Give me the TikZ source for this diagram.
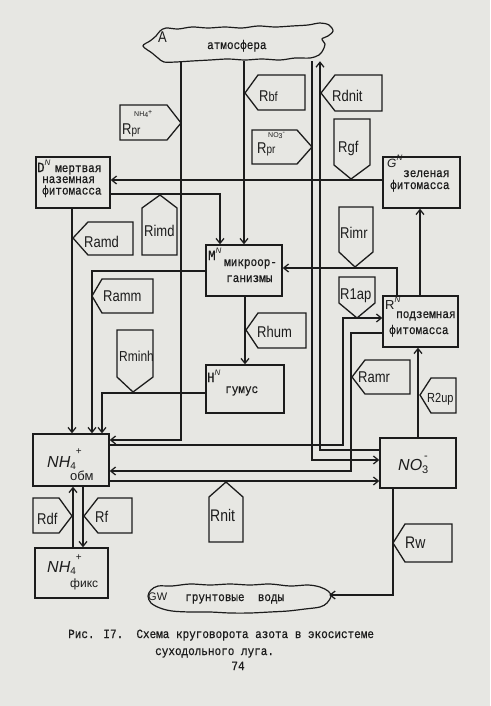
\documentclass[tikz,border=0pt]{standalone}
\usepackage{fontspec}
\usepackage{graphicx}
\setmainfont{Liberation Mono}[FakeStretch=0.88,FakeBold=0.6]
\newfontfamily\hand{Liberation Sans}
\usetikzlibrary{arrows.meta}
\definecolor{paper}{RGB}{231,231,227}
\definecolor{ink}{RGB}{28,28,28}
\newcommand{\Rl}[1]{{\hand\fontsize{13}{13}\selectfont\scalebox{1}[1.2]{#1}}}
\newcommand{\tw}{\fontsize{12.5}{12.5}\selectfont}
\newcommand{\supN}{\raisebox{7pt}{\hand\itshape\fontsize{8}{8}\selectfont N}}
\begin{document}
\begin{tikzpicture}[x=1pt,y=-1pt,color=ink,
  box/.style={draw,rectangle,inner sep=0pt,line width=1.3pt},
  arr/.style={line width=1.25pt,-{Straight Barb[length=5pt,width=8pt]}},
  ptr/.style={line width=1.3pt},
  lbl/.style={inner sep=0pt,anchor=base west,font=\tw},
  cloudline/.style={line width=1.2pt}]
\useasboundingbox (0,0) rectangle (490,706);
\fill[paper] (0,0) rectangle (490,706);

% ---------- boxes ----------
\node[box,minimum width=74pt,minimum height=51pt] (D) at (73,182.5) {};
\node[box,minimum width=77pt,minimum height=51pt] (G) at (421.5,182.5) {};
\node[box,minimum width=76pt,minimum height=51pt] (M) at (244,270.5) {};
\node[box,minimum width=75pt,minimum height=51pt] (R) at (420.5,321.5) {};
\node[box,minimum width=78pt,minimum height=48pt] (H) at (245,389) {};
\node[box,minimum width=76pt,minimum height=52pt] (NHobm) at (71,460) {};
\node[box,minimum width=76pt,minimum height=50pt] (NO) at (418,463) {};
\node[box,minimum width=73pt,minimum height=50pt] (NHfix) at (71.5,573) {};

% ---------- clouds ----------
\node[inner sep=0pt,minimum width=178pt,minimum height=35pt] (atm) at (239,43.5) {};
\draw[cloudline] plot[smooth cycle,tension=0.55] coordinates {
 (143,46) (150,41) (156,36) (160,31) (166,28) (178,29) (192,27) (208,28) (225,27)
 (242,28) (258,26) (275,27) (292,26) (308,25) (320,23) (329,25) (333,31) (328,36)
 (322,39) (325,44) (323,50) (319,55) (310,58) (295,58) (280,60) (262,59) (245,60)
 (228,59) (210,60) (192,61) (176,62) (164,62) (158,58) (152,53)};
\node[inner sep=0pt,minimum width=180pt,minimum height=28pt] (GW) at (239,598) {};
\draw[cloudline] plot[smooth cycle,tension=0.55] coordinates {
 (148,596) (151,590) (158,586) (172,586) (190,584) (210,585) (230,584) (250,585)
 (270,584) (290,586) (308,585) (320,587) (328,591) (331,596) (327,603) (320,607)
 (305,609) (288,611) (270,612) (250,613) (230,613) (210,612) (190,612) (172,611)
 (160,608) (151,603)};

% ---------- connectors ----------
\draw[arr] (atm.south -| 181,0) -- (181,440) -- (NHobm.east |- 0,440);
\draw[arr] (atm.south -| 244,0) -- (M.north -| 244,0);
\draw[arr] (atm.south -| 312,0) -- (312,460) -- (NO.west |- 0,460);
\draw[arr] (NO.west |- 0,450) -- (320,450) -- (atm.south -| 320,0);
\draw[arr] (G.west |- 0,180) -- (D.east |- 0,180);
\draw[arr] (D.east |- 0,194) -- (220,194) -- (M.north -| 220,0);
\draw[arr] (D.south -| 72,0) -- (NHobm.north -| 72,0);
\draw[arr] (M.west |- 0,271) -- (92,271) -- (NHobm.north -| 92,0);
\draw[arr] (M.south -| 245,0) -- (H.north -| 245,0);
\draw[arr] (H.west |- 0,393) -- (102,393) -- (NHobm.north -| 102,0);
\draw[arr] (R.north -| 397,0) -- (397,268) -- (M.east |- 0,268);
\draw[arr] (R.north -| 420,0) -- (G.south -| 420,0);
\draw[arr] (NHobm.east |- 0,445) -- (343,445) -- (343,318) -- (R.west |- 0,318);
\draw[arr] (R.west |- 0,333) -- (351,333) -- (351,471) -- (NHobm.east |- 0,471);
\draw[arr] (NHobm.east |- 0,481) -- (NO.west |- 0,481);
\draw[arr] (NO.north -| 418,0) -- (R.south -| 418,0);
\draw[arr] (NO.south -| 393,0) -- (393,595) -- (GW.east |- 0,595);
\draw[arr] (NHfix.north -| 73,0) -- (NHobm.south -| 73,0);
\draw[arr] (NHobm.south -| 83,0) -- (NHfix.north -| 83,0);

% ---------- rate pointers ----------
\draw[ptr] (245,93) -- (258,75) -- (305,75) -- (305,110) -- (258,110) -- cycle;
\draw[ptr] (321,93) -- (335,75) -- (382,75) -- (382,111) -- (335,111) -- cycle;
\draw[ptr] (73,238) -- (88,222) -- (133,222) -- (133,255) -- (88,255) -- cycle;
\draw[ptr] (92,296) -- (102,279) -- (153,279) -- (153,313) -- (102,313) -- cycle;
\draw[ptr] (246,330) -- (258,313) -- (306,313) -- (306,348) -- (258,348) -- cycle;
\draw[ptr] (352,377) -- (365,360) -- (410,360) -- (410,394) -- (365,394) -- cycle;
\draw[ptr] (420,395) -- (431,378) -- (456,378) -- (456,413) -- (431,413) -- cycle;
\draw[ptr] (393,543) -- (405,524) -- (452,524) -- (452,562) -- (405,562) -- cycle;
\draw[ptr] (84,516) -- (98,498) -- (132,498) -- (132,533) -- (98,533) -- cycle;
\draw[ptr] (181,123) -- (167,105) -- (120,105) -- (120,140) -- (167,140) -- cycle;
\draw[ptr] (312,147) -- (297,130) -- (252,130) -- (252,164) -- (297,164) -- cycle;
\draw[ptr] (72,516) -- (59,498) -- (33,498) -- (33,533) -- (59,533) -- cycle;
\draw[ptr] (351,179) -- (334,165) -- (334,119) -- (370,119) -- (370,165) -- cycle;
\draw[ptr] (355,267) -- (339,252) -- (339,207) -- (373,207) -- (373,252) -- cycle;
\draw[ptr] (357,318) -- (339,303) -- (339,277) -- (375,277) -- (375,303) -- cycle;
\draw[ptr] (133,392) -- (117,377) -- (117,330) -- (153,330) -- (153,377) -- cycle;
\draw[ptr] (160,195) -- (142,208) -- (142,255) -- (177,255) -- (177,208) -- cycle;
\draw[ptr] (226,482) -- (209,497) -- (209,542) -- (243,542) -- (243,497) -- cycle;

% ---------- pointer labels ----------
\node[lbl] (tRbf) at (259,102) {\Rl{R{\fontsize{11}{11}\selectfont bf}}};
\node[lbl] (tRdnit) at (332,102) {\Rl{Rdnit}};
\node[lbl] (tRprA) at (122,134) {\Rl{R{\fontsize{10}{10}\selectfont pr}}};
\node[lbl] (tRprAs) at (134,117) {{\hand\fontsize{7}{7}\selectfont NH\raisebox{-1pt}{4}\raisebox{2.5pt}{+}}};
\node[lbl] (tRprB) at (257,153) {\Rl{R{\fontsize{10}{10}\selectfont pr}}};
\node[lbl] (tRprBs) at (268,137) {{\hand\fontsize{7}{7}\selectfont NO\raisebox{-1pt}{3}\raisebox{2.5pt}{-}}};
\node[lbl] (tRgf) at (338,152) {\Rl{Rgf}};
\node[lbl] (tRamd) at (84,247) {\Rl{Ramd}};
\node[lbl] (tRimd) at (144,236) {\Rl{Rimd}};
\node[lbl] (tRamm) at (103,301) {\Rl{Ramm}};
\node[lbl] (tRminh) at (119,361) {\Rl{\fontsize{12}{12}\selectfont Rminh}};
\node[lbl] (tRhum) at (257,337) {\Rl{Rhum}};
\node[lbl] (tRimr) at (340,238) {\Rl{Rimr}};
\node[lbl] (tR1ap) at (340,299) {\Rl{R1ap}};
\node[lbl] (tRamr) at (358,382) {\Rl{Ramr}};
\node[lbl] (tR2up) at (427,402) {\Rl{\fontsize{11}{11}\selectfont R2up}};
\node[lbl] (tRnit) at (210,521) {\Rl{\fontsize{14}{14}\selectfont Rnit}};
\node[lbl] (tRdf) at (37,524) {\Rl{Rdf}};
\node[lbl] (tRf) at (95,522) {\Rl{Rf}};
\node[lbl] (tRw) at (405,548) {\Rl{\fontsize{14}{14}\selectfont Rw}};

% ---------- box texts ----------
\node[lbl] (tA) at (158,43) {\Rl{A}};
\node[lbl] (tatm) at (207,49) {атмосфера};
\node[lbl] (tD) at (37,172) {{\fontsize{14}{14}\selectfont D}\supN};
\node[lbl] (tD1) at (55,172) {мертвая};
\node[lbl] (tD2) at (42,183) {наземная};
\node[lbl] (tD3) at (42,194.5) {фитомасса};
\node[lbl] (tG) at (387,167) {{\hand\itshape\fontsize{12}{12}\selectfont G}\supN};
\node[lbl] (tG1) at (403,177) {зеленая};
\node[lbl] (tG2) at (390,189) {фитомасса};
\node[lbl] (tM) at (208,260) {{\fontsize{14}{14}\selectfont M}\supN};
\node[lbl] (tM1) at (224,266) {микроор-};
\node[lbl] (tM2) at (226,282) {ганизмы};
\node[lbl] (tR) at (385,309) {{\hand\fontsize{13}{13}\selectfont R}\supN};
\node[lbl] (tR1) at (396,318) {подземная};
\node[lbl] (tR2) at (389,334) {фитомасса};
\node[lbl] (tH) at (207,382) {{\fontsize{14}{14}\selectfont H}\supN};
\node[lbl] (tH1) at (225,393) {гумус};
\node[lbl] (tobm) at (47,467) {{\hand\itshape\fontsize{16}{16}\selectfont NH}{\hand\fontsize{10}{10}\selectfont\raisebox{-2pt}{4}\raisebox{13pt}{+}}};
\node[lbl] (tobm2) at (70,480) {{\hand\fontsize{13}{13}\selectfont обм}};
\node[lbl] (tfix) at (47,572) {{\hand\itshape\fontsize{16}{16}\selectfont NH}{\hand\fontsize{10}{10}\selectfont\raisebox{-2pt}{4}\raisebox{12pt}{+}}};
\node[lbl] (tfix2) at (70,587) {{\hand\fontsize{12}{12}\selectfont фикс}};
\node[lbl] (tNO) at (398,470) {{\hand\itshape\fontsize{16}{16}\selectfont NO}{\hand\fontsize{11}{11}\selectfont\rlap{\raisebox{11pt}{\,-}}\raisebox{-3pt}{3}}};
\node[lbl] (tGW) at (148,600) {{\hand\fontsize{11}{11}\selectfont GW}};
\node[lbl] (tGW2) at (185,601) {грунтовые\ \ воды};

% ---------- caption ----------
\node[lbl] (cap1) at (68,638) {Рис. I7.\ \ Схема круговорота азота в экосистеме};
\node[lbl] (cap2) at (155,655) {суходольного луга.};
\node[lbl,anchor=base] (cap3) at (238,670) {74};
\end{tikzpicture}
\end{document}
